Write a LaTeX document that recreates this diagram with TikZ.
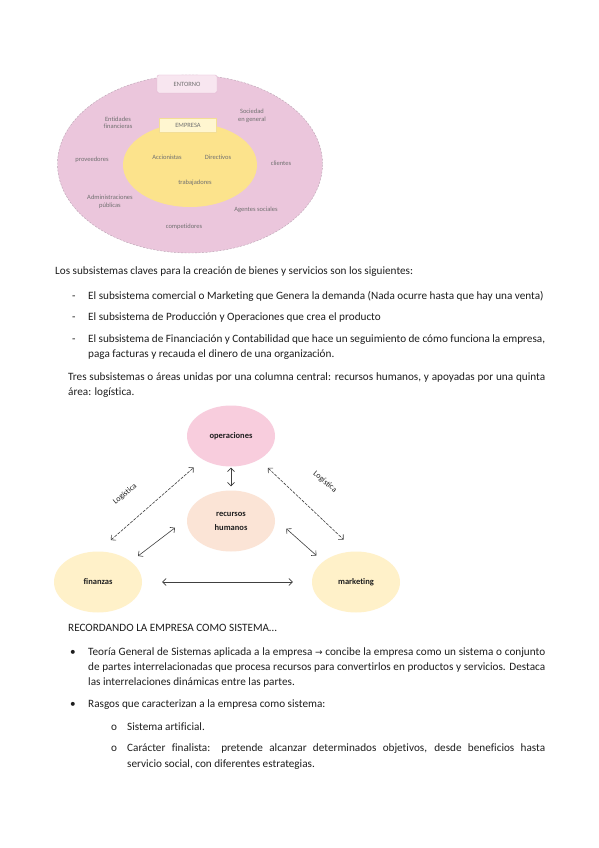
\documentclass[tikz,border=0pt]{standalone}
\usepackage{fontspec}
\setmainfont{Carlito}[Ligatures=NoCommon]
\newfontfamily\simbolos{DejaVu Sans}
\usetikzlibrary{shapes.geometric,arrows.meta}
\definecolor{rosaent}{HTML}{EBC6DC}
\definecolor{bordeent}{HTML}{B9A3B2}
\definecolor{cajaent}{HTML}{F8E6F0}
\definecolor{bordecajaent}{HTML}{E2B8D2}
\definecolor{amaemp}{HTML}{FCE38C}
\definecolor{cajaemp}{HTML}{FFF6D0}
\definecolor{bordecajaemp}{HTML}{F3DE96}
\definecolor{rosaop}{HTML}{F8CDDD}
\definecolor{melocoton}{HTML}{FBE4D6}
\definecolor{crema}{HTML}{FFF1C9}
\definecolor{gristexto}{HTML}{707070}
\definecolor{tinta}{HTML}{1E1E1E}
\tikzset{
    texto/.style={anchor=base west,inner sep=0pt,text=tinta,
        font=\fontsize{11.2}{13}\selectfont},
    peque/.style={text=gristexto,font=\fontsize{6.5}{7.5}\selectfont,
        align=center,inner sep=0pt},
    area/.style={ellipse,minimum width=88pt,minimum height=61pt,inner sep=0pt,
        align=center,text=tinta,font=\fontsize{8.5}{14}\selectfont\bfseries},
    flecha/.style={draw=black!75,line width=0.6pt,
        >={Straight Barb[length=3.5pt,width=7pt]},<->},
    logi/.style={text=tinta,font=\fontsize{8}{9}\selectfont,inner sep=0pt},
}
% una linea de texto, y una linea justificada de ancho dado
\newcommand{\renglon}[4] {
    \node[texto] (#1) at (#2,#3) {#4};
}
\newcommand{\justo}[5] {
    \node[texto] (#1) at (#2,#3) {\makebox[#4pt][s]{#5}};
}
\begin{document}
\begin{tikzpicture}[x=1pt,y=-1pt]
    \path[fill=white] (0,0) rectangle (599,848);
    % entorno y empresa
    \node[ellipse,draw=bordeent,dash pattern=on 2pt off 1.5pt,line width=0.4pt,
        fill=rosaent,minimum width=265pt,minimum height=178pt] (entorno) at (190,164) {};
    \node[ellipse,fill=amaemp,minimum width=134pt,minimum height=84pt] (empresa) at (190,165) {};
    \node[peque,draw=bordecajaent,fill=cajaent,rounded corners=2pt,
        minimum width=60pt,minimum height=18pt] (cajaent) at (187,84) {ENTORNO};
    \node[peque,draw=bordecajaemp,fill=cajaemp,
        minimum width=57pt,minimum height=14pt] (cajaemp) at (188,125) {EMPRESA};
    \node[peque] (entidades) at (118,123) {Entidades\\financieras};
    \node[peque] (sociedad) at (252,116) {Sociedad\\en general};
    \node[peque] (proveedores) at (92,160) {proveedores};
    \node[peque] (clientes) at (281,163) {clientes};
    \node[peque] (accionistas) at (167,157) {Accionistas};
    \node[peque] (directivos) at (218,157) {Directivos};
    \node[peque] (trabajadores) at (195,183) {trabajadores};
    \node[peque] (administraciones) at (110,202) {Administraciones\\públicas};
    \node[peque] (agentes) at (256,210) {Agentes sociales};
    \node[peque] (competidores) at (184,227) {competidores};

    % subsistemas
    \renglon{t1}{55}{274}{Los subsistemas claves para la creación de bienes y servicios son los siguientes:}
    \renglon{g1}{72}{299}{-}
    \renglon{t2}{88}{299}{El subsistema comercial o Marketing que Genera la demanda (Nada ocurre hasta que hay una venta)}
    \renglon{g2}{72}{320}{-}
    \renglon{t3}{88}{320}{El subsistema de Producción y Operaciones que crea el producto}
    \renglon{g3}{72}{342}{-}
    \justo{t4}{88}{342}{457}{El subsistema de Financiación y Contabilidad que hace un seguimiento de cómo funciona la empresa,}
    \renglon{t5}{88}{357}{paga facturas y recauda el dinero de una organización.}
    \justo{t6}{68}{380}{477}{Tres subsistemas o áreas unidas por una columna central: recursos humanos, y apoyadas por una quinta}
    \renglon{t7}{68}{395}{área: logística.}

    % areas
    \node[area,fill=rosaop] (ops) at (231,436) {operaciones};
    \node[area,fill=melocoton] (rh) at (231,521) {recursos\\humanos};
    \node[area,fill=crema] (fin) at (98,582) {finanzas};
    \node[area,fill=crema] (mkt) at (356,582) {marketing};
    \draw[flecha,shorten <=1pt,shorten >=4pt] (ops.south) -- (rh.north);
    \draw[flecha,dash pattern=on 3pt off 1.2pt,shorten <=17pt,shorten >=12pt] (fin.north) -- (ops.220);
    \draw[flecha,dash pattern=on 3pt off 1.2pt,shorten <=12pt,shorten >=17pt] (ops.320) -- (mkt.north);
    \draw[flecha,shorten <=9pt,shorten >=15pt] (fin.32) -- (rh.177);
    \draw[flecha,shorten <=15pt,shorten >=9pt] (rh.3) -- (mkt.148);
    \draw[flecha,shorten <=20pt,shorten >=19pt] (fin.east) -- (mkt.west);
    \node[logi,rotate=40] (log1) at (125,494) {Logística};
    \node[logi,rotate=-40] (log2) at (325,482) {Logística};

    % la empresa como sistema
    \renglon{s1}{68}{631}{RECORDANDO LA EMPRESA COMO SISTEMA…}
    \renglon{b1}{70}{655}{•}
    \justo{s2}{88}{655}{457}{Teoría General de Sistemas aplicada a la empresa {\simbolos\fontsize{9}{11}\selectfont →} concibe la empresa como un sistema o conjunto}
    \justo{s3}{88}{670}{457}{de partes interrelacionadas que procesa recursos para convertirlos en productos y servicios. Destaca}
    \renglon{s4}{88}{685}{las interrelaciones dinámicas entre las partes.}
    \renglon{b2}{70}{707}{•}
    \renglon{s5}{88}{707}{Rasgos que caracterizan a la empresa como sistema:}
    \renglon{o1}{111}{730}{o}
    \renglon{s6}{127}{730}{Sistema artificial.}
    \renglon{o2}{111}{751}{o}
    \justo{s7}{127}{751}{418}{Carácter finalista: pretende alcanzar determinados objetivos, desde beneficios hasta}
    \renglon{s8}{127}{767}{servicio social, con diferentes estrategias.}
\end{tikzpicture}
\end{document}
